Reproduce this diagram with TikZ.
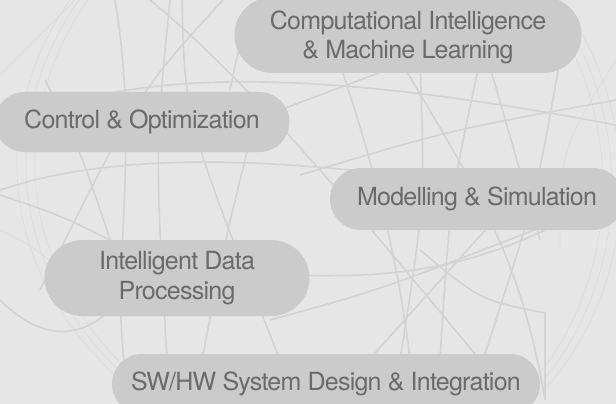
\documentclass[tikz,border=0pt]{standalone}
\usepackage{fontspec}
\setmainfont{TeX Gyre Heros}[LetterSpace=-3]
\usetikzlibrary{positioning}
\usetikzlibrary{shapes.misc}
\definecolor{bgcol}{HTML}{E6E6E7}
\definecolor{pillcol}{HTML}{CBCBCC}
\definecolor{txtcol}{HTML}{6A6A6B}
\definecolor{linecol}{HTML}{D3D3D4}
\definecolor{thincol}{HTML}{DBDBDC}
\tikzset{
  pill/.style={rounded rectangle, fill=pillcol, text=txtcol, align=center,
    inner sep=0pt, font=\fontsize{25}{30}\selectfont},
  bgline/.style={draw=linecol, line width=1.6pt},
  thinline/.style={draw=thincol, line width=0.5pt}
}
\begin{document}
\begin{tikzpicture}[x=1pt,y=-1pt]
    \clip (0,0) rectangle (616,404);
    \fill[bgcol] (0,0) rectangle (616,404);
    % thin globe outline, left and right
    \foreach \d in {0,9,18} {
      \draw[thinline] (70+\d,0) .. controls (-15+\d,120) and (-5+\d,290) .. (150+\d,404);
      \draw[thinline] (560-\d,0) .. controls (650-\d,120) and (640-\d,300) .. (530-\d,404);
    }
    \draw[thinline] (0,75) -- (75,0);
    \draw[thinline] (0,230) .. controls (40,250) .. (90,300);
    \draw[thinline] (616,60) .. controls (560,150) .. (560,250);
    % web of lines behind the topics
    \draw[bgline] (115,0) .. controls (140,150) and (112,260) .. (124,360);
    \draw[bgline] (150,0) .. controls (260,90) and (380,240) .. (480,360);
    \draw[bgline] (170,0) .. controls (155,150) .. (167,360);
    \draw[bgline] (182,0) .. controls (185,120) .. (280,360);
    \draw[bgline] (223,0) .. controls (140,90) .. (40,290);
    \draw[bgline] (45,80) .. controls (80,150) .. (112,245);
    \draw[bgline] (0,190) .. controls (120,150) and (300,150) .. (616,210);
    \draw[bgline] (0,130) .. controls (100,80) and (250,55) .. (616,125);
    \draw[bgline] (200,140) -- (440,50);
    \draw[bgline] (300,175) .. controls (450,130) .. (616,100);
    \draw[bgline] (318,0) .. controls (360,120) and (395,230) .. (410,360);
    \draw[bgline] (420,60) .. controls (425,200) .. (400,360);
    \draw[bgline] (400,60) .. controls (470,180) and (520,250) .. (545,400);
    \draw[bgline] (480,60) .. controls (450,200) .. (440,360);
    \draw[bgline] (488,60) -- (540,240);
    \draw[bgline] (560,60) .. controls (535,200) .. (483,360);
    \draw[bgline] (530,180) -- (360,370);
    \draw[bgline] (290,275) .. controls (420,280) and (500,260) .. (600,200);
    \draw[bgline] (270,320) .. controls (380,290) .. (560,220);
    \draw[bgline] (420,250) .. controls (480,300) .. (545,313) -- (545,400);
    \draw[bgline] (0,300) .. controls (50,350) and (90,330) .. (110,310);
    \draw[bgline] (255,120) .. controls (225,240) .. (202,360);
    \draw[bgline] (0,195) .. controls (60,215) .. (130,250);
    \draw[bgline] (270,0) .. controls (240,40) .. (230,90);
    % topics
    \node[pill, minimum width=347, minimum height=76] (comp) at (408,35) {\raisebox{-3pt}[\height][\depth]{\begin{tabular}{@{}c@{}}Computational Intelligence\\\& Machine Learning\end{tabular}}};
    \node[pill, minimum width=295, minimum height=60] (ctrl) at (142,122) {Control \& Optimization};
    \node[pill, minimum width=294, minimum height=62] (model) at (477,199) {Modelling \& Simulation};
    \node[pill, minimum width=265, minimum height=76] (idp) at (177,278) {Intelligent Data\\Processing};
    \node[pill, minimum width=428, minimum height=60] (sw) at (326,384) {SW/HW System Design \& Integration};
  \end{tikzpicture}
\end{document}
